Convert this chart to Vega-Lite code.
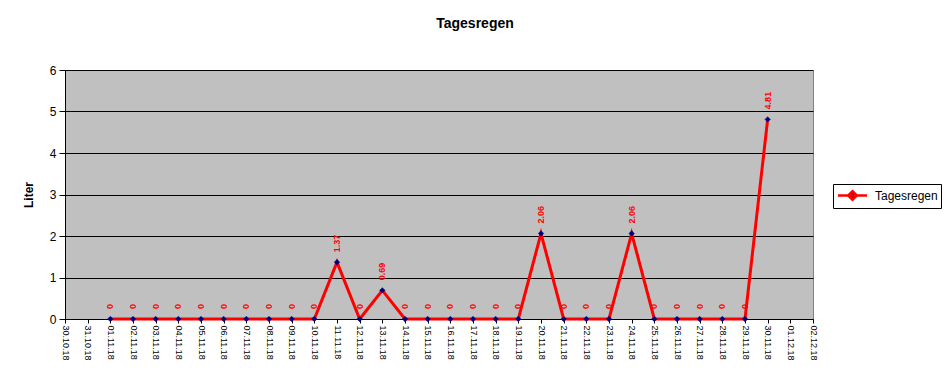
{
  "$schema": "https://vega.github.io/schema/vega-lite/v6.json",
  "width": 748,
  "height": 249,
  "autosize": {"type": "none"},
  "padding": {"left": 65, "top": 70, "right": 133, "bottom": 56},
  "background": "white",
  "title": {"text": "Tagesregen", "font": "Liberation Sans", "fontSize": 14, "fontWeight": "bold", "color": "black", "anchor": "middle", "dx": 36, "offset": 33},
  "data": {"values": [
    {"datum": "01.11.18", "liter": 0}, {"datum": "02.11.18", "liter": 0}, {"datum": "03.11.18", "liter": 0},
    {"datum": "04.11.18", "liter": 0}, {"datum": "05.11.18", "liter": 0}, {"datum": "06.11.18", "liter": 0},
    {"datum": "07.11.18", "liter": 0}, {"datum": "08.11.18", "liter": 0}, {"datum": "09.11.18", "liter": 0},
    {"datum": "10.11.18", "liter": 0}, {"datum": "11.11.18", "liter": 1.37}, {"datum": "12.11.18", "liter": 0},
    {"datum": "13.11.18", "liter": 0.69}, {"datum": "14.11.18", "liter": 0}, {"datum": "15.11.18", "liter": 0},
    {"datum": "16.11.18", "liter": 0}, {"datum": "17.11.18", "liter": 0}, {"datum": "18.11.18", "liter": 0},
    {"datum": "19.11.18", "liter": 0}, {"datum": "20.11.18", "liter": 2.06}, {"datum": "21.11.18", "liter": 0},
    {"datum": "22.11.18", "liter": 0}, {"datum": "23.11.18", "liter": 0}, {"datum": "24.11.18", "liter": 2.06},
    {"datum": "25.11.18", "liter": 0}, {"datum": "26.11.18", "liter": 0}, {"datum": "27.11.18", "liter": 0},
    {"datum": "28.11.18", "liter": 0}, {"datum": "29.11.18", "liter": 0}, {"datum": "30.11.18", "liter": 4.81}
  ]},
  "encoding": {
    "x": {
      "field": "datum", "type": "ordinal", "sort": null,
      "scale": {"type": "point", "padding": 0, "domain": ["30.10.18", "31.10.18", "01.11.18", "02.11.18", "03.11.18", "04.11.18", "05.11.18", "06.11.18", "07.11.18", "08.11.18", "09.11.18", "10.11.18", "11.11.18", "12.11.18", "13.11.18", "14.11.18", "15.11.18", "16.11.18", "17.11.18", "18.11.18", "19.11.18", "20.11.18", "21.11.18", "22.11.18", "23.11.18", "24.11.18", "25.11.18", "26.11.18", "27.11.18", "28.11.18", "29.11.18", "30.11.18", "01.12.18", "02.12.18"]},
      "axis": {"title": null, "labelAngle": 90, "labelFontSize": 9, "labelFont": "Liberation Sans", "labelColor": "black", "tickSize": 4, "tickColor": "black", "domainColor": "black", "labelPadding": 2, "labelOverlap": false, "grid": false}
    },
    "y": {
      "field": "liter", "type": "quantitative",
      "scale": {"domain": [0, 6], "nice": false},
      "axis": {"title": "Liter", "titleFont": "Liberation Sans", "titleFontSize": 12, "titleFontWeight": "bold", "titleColor": "black", "titlePadding": 14, "values": [0, 1, 2, 3, 4, 5, 6], "labelFontSize": 12, "labelFont": "Liberation Sans", "labelColor": "black", "tickSize": 6, "tickColor": "black", "domainColor": "black", "labelPadding": 3, "grid": true, "gridColor": "black", "gridWidth": 1}
    }
  },
  "layer": [
    {
      "mark": {"type": "line", "strokeWidth": 3},
      "encoding": {
        "color": {
          "datum": "Tagesregen",
          "scale": {"range": ["#ff0000"]},
          "legend": {
            "title": null, "orient": "none", "legendX": 768, "legendY": 114,
            "strokeColor": "black", "fillColor": "white", "padding": 3,
            "labelFont": "Liberation Sans", "labelFontSize": 12, "labelColor": "black",
            "symbolType": "M-2,0H2M0,-0.6L0.6,0L0,0.6L-0.6,0Z",
            "symbolSize": 210, "symbolStrokeWidth": 2.5, "symbolStrokeColor": "#ff0000",
            "symbolOffset": 8, "labelOffset": 14,
            "encode": {"symbols": {"update": {"fill": {"value": "#000080"}, "stroke": {"value": "#ff0000"}}}}
          }
        }
      }
    },
    {
      "mark": {"type": "point", "shape": "diamond", "filled": true, "fill": "#000080", "stroke": "#000080", "strokeWidth": 0.5, "size": 30, "opacity": 1}
    },
    {
      "mark": {"type": "text", "angle": 270, "align": "left", "baseline": "middle", "dx": 10, "font": "Liberation Sans", "fontSize": 9, "fontWeight": "bold", "color": "#ff0000"},
      "encoding": {"text": {"field": "liter", "type": "nominal"}}
    }
  ],
  "config": {
    "view": {"fill": "#c0c0c0", "stroke": "#808080", "strokeWidth": 1},
    "font": "Liberation Sans"
  }
}
